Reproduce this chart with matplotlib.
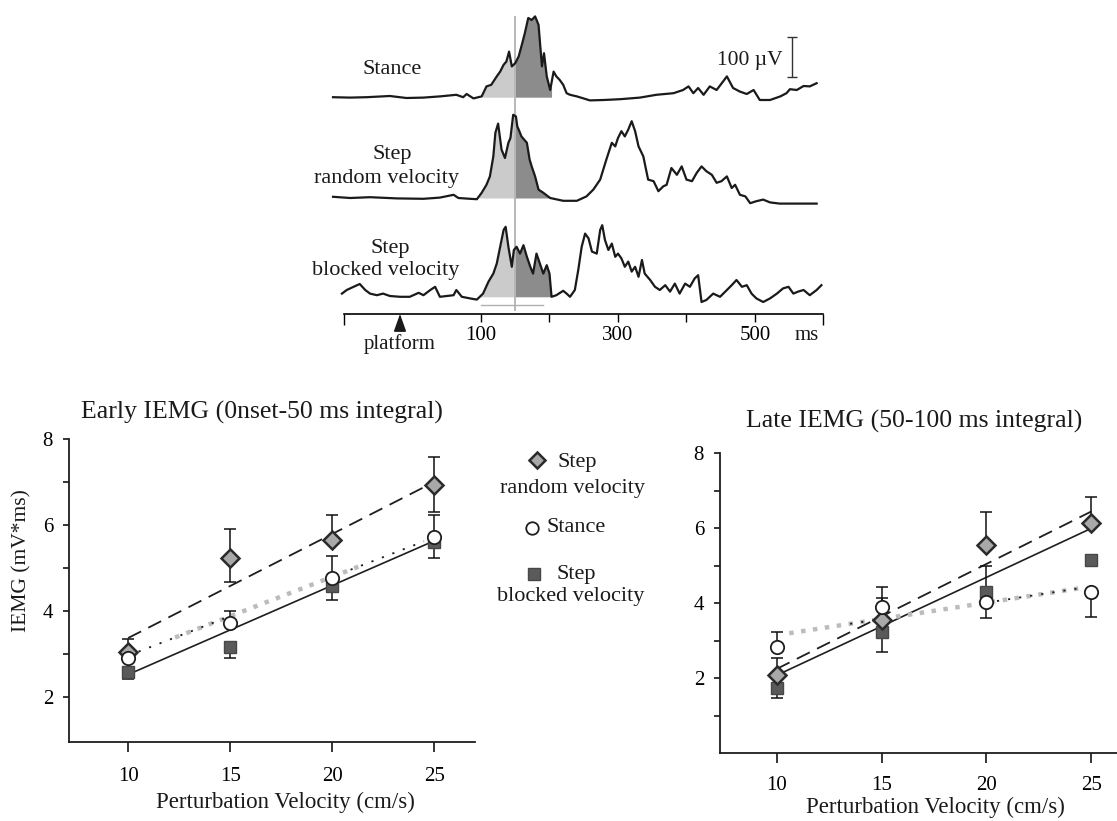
import numpy as np
import matplotlib.pyplot as plt

plt.rcParams['font.family'] = ['Liberation Serif', 'DejaVu Serif']

# ---- EMG traces (time in ms, amplitude in uV above each trace's baseline)
stance_t = [-116, -91, -67, -33, -9, 16, 40, 64, 74, 79, 89, 101, 108, 115, 123, 128, 133, 137,
            141, 145, 150, 155, 159, 164, 169, 174, 179, 184, 189, 192, 196, 201, 206, 210, 215,
            220, 225, 230, 240, 259, 279, 303, 332, 356, 381, 395, 403, 410, 417, 425, 434, 444,
            459, 468, 478, 488, 498, 507, 522, 537, 546, 551, 561, 571, 580, 590]
stance_uv = [0, -1, 0, 3, -2, -1, 2, 6, 0, 8, -3, 2, 27, 31, 52, 64, 81, 89,
             114, 77, 85, 102, 127, 160, 198, 193, 202, 181, 77, 110, 52, 18, 64, 52, 43,
             31, 10, 6, 2, -8, -7, -5, -1, 6, 10, 18, 27, 10, 23, 6, 27, 18,
             52, 23, 14, 8, 18, -7, -7, 2, 10, 20, 18, 28, 27, 35]

random_t = [-116, -91, -62, -23, 16, 40, 60, 67, 84, 94, 101, 108, 113, 118, 121, 125, 130, 135,
            140, 143, 147, 151, 153, 156, 159, 163, 167, 171, 174, 179, 184, 191, 201, 220, 240,
            254, 264, 274, 283, 291, 296, 300, 305, 310, 315, 320, 325, 330, 337, 344, 352, 359,
            366, 371, 378, 386, 393, 400, 408, 415, 422, 429, 437, 444, 451, 459, 466, 471, 478,
            486, 493, 502, 512, 522, 536, 561, 590]
random_uv = [3, 0, 2, -1, -2, 1, 8, 0, -2, -3, 13, 33, 54, 104, 163, 186, 121, 100,
             138, 150, 208, 204, 179, 167, 154, 146, 138, 96, 79, 54, 21, 13, 0, -7, -7,
             4, 21, 46, 96, 138, 129, 150, 167, 154, 171, 192, 167, 129, 104, 46, 42, 17,
             29, 33, 75, 58, 79, 46, 42, 63, 79, 67, 58, 38, 42, 54, 25, 33, 8,
             4, -13, -8, -4, -11, -14, -14, -14]

blocked_t = [-103, -96, -86, -77, -69, -62, -52, -43, -33, -18, -4, 9, 16, 26, 33, 40, 50, 60,
             64, 72, 84, 94, 103, 111, 118, 123, 128, 133, 136, 140, 145, 148, 152, 157, 162,
             167, 172, 176, 181, 186, 191, 196, 200, 203, 210, 220, 225, 230, 237, 242, 247,
             252, 257, 262, 269, 274, 277, 281, 286, 291, 296, 300, 305, 310, 315, 320, 325,
             330, 335, 339, 347, 354, 361, 369, 376, 383, 390, 398, 405, 412, 417, 422, 429,
             439, 449, 459, 466, 473, 481, 488, 495, 502, 512, 522, 532, 541, 549, 556, 563,
             571, 580, 590, 597]
blocked_uv = [8, 17, 25, 32, 17, 8, 4, 8, 2, 0, 0, 10, 4, 17, 25, 0, 2, 4,
              17, 0, -4, -7, 8, 38, 58, 83, 125, 167, 175, 125, 75, 117, 125, 108, 129,
              100, 75, 58, 108, 83, 58, 79, 58, 0, 4, 15, 8, 0, 17, 67, 125,
              158, 146, 113, 108, 167, 179, 142, 117, 133, 100, 108, 96, 75, 88, 63, 75,
              50, 92, 58, 42, 25, 17, 29, 13, 33, 8, 33, 25, 46, 54, -13, -8,
              8, 0, 17, 29, 42, 25, 29, 8, -4, -13, -4, 8, 21, 25, 8, 13,
              17, 4, 17, 29]

# integration windows (ms): onset -> onset+50 (light), onset+50 -> onset+100 (dark)
early_win = [(101, 150), (97, 148), (97, 148)]
late_win = [(150, 203), (148, 199), (148, 203)]

# ---- integrated EMG
vel = [10, 15, 20, 25]

early_random = [3.05, 5.23, 5.65, 6.93]
early_random_lo = [0, 0.55, 0, 0.62]
early_random_hi = [0.29, 0.67, 0.58, 0.64]
early_stance = [2.90, 3.73, 4.76, 5.73]
early_stance_lo = [0, 0, 0, 0]
early_stance_hi = [0, 0.27, 0.52, 0.50]
early_blocked = [2.59, 3.17, 4.57, 5.61]
early_blocked_lo = [0.18, 0.27, 0.31, 0.38]
early_blocked_hi = [0, 0, 0, 0]

late_random = [2.09, 3.56, 5.55, 6.13]
late_random_lo = [0, 0, 0, 0]
late_random_hi = [0.44, 0.57, 0.88, 0.71]
late_stance = [2.84, 3.91, 4.04, 4.31]
late_stance_lo = [0, 0, 0.44, 0.67]
late_stance_hi = [0.40, 0.52, 0, 0]
late_blocked = [1.73, 3.24, 4.31, 5.15]
late_blocked_lo = [0.26, 0.53, 0, 0]
late_blocked_hi = [0, 0, 0.68, 0]

fit_x = [10, 25]
early_random_fit = [3.37, 7.0]
early_blocked_fit = [2.52, 5.63]
early_stance_fit = [2.96, 5.71]
early_gray_x = [12.3, 21.6]
early_black_dots = [(10.0, 15.0), (20.9, 24.5)]

late_random_fit = [2.25, 6.45]
late_blocked_fit = [2.08, 6.0]
late_stance_fit = [3.15, 4.45]
late_gray_x = [10.6, 24.6]
late_black_dots = [(13.5, 15.2), (20.5, 24.6)]

W, H = 1117, 821
fig = plt.figure(figsize=(W / 100, H / 100), dpi=100)


def px_box(x0, x1, y0, y1):
    return [x0 / W, 1 - y1 / H, (x1 - x0) / W, (y1 - y0) / H]


# ================= top: EMG traces =================
top = fig.add_axes(px_box(330.3, 826.9, 5, 314))
top.set_xlim(-120, 605)
top.set_ylim(0, 772.5)
offsets = [542, 290, 43]
traces = [(stance_t, stance_uv), (random_t, random_uv), (blocked_t, blocked_uv)]


def burst_fill(ax, t, v, off, a, b, color):
    t = np.asarray(t, float)
    v = np.asarray(v, float)
    m = (t > a) & (t < b)
    tt = np.concatenate([[a], t[m], [b]])
    vv = np.concatenate([[np.interp(a, t, v)], v[m], [np.interp(b, t, v)]])
    ax.fill_between(tt, off, off + vv, color=color, lw=0, zorder=1)


for (t, v), off, w1, w2 in zip(traces, offsets, early_win, late_win):
    burst_fill(top, t, v, off, w1[0], w1[1], '#cbcbcb')
    burst_fill(top, t, v, off, w2[0], w2[1], '#8c8c8c')
    top.plot(t, np.asarray(v) + off, color='#1a1a1a', lw=1.6, zorder=3)

top.plot([150, 150], [10, 742], color='#b8b8b8', lw=1.4, zorder=2)
top.plot([100, 191], [22, 22], color='#b0b0b0', lw=1.0, zorder=2)
# 100 uV scale bar
top.errorbar([554], [642.5], yerr=50, fmt='none', ecolor='#333333',
             elinewidth=1.0, capsize=3.5, capthick=1.0)

for s in ['top', 'right', 'left']:
    top.spines[s].set_visible(False)
top.spines['bottom'].set_bounds(-100, 600)
top.spines['bottom'].set_linewidth(1.2)
top.set_yticks([])
top.set_xticks([100, 200, 300, 400, 500])
top.set_xticklabels(['100', '', '300', '', '500'])
top.set_xticks([-100, 600], minor=True)
top.tick_params(axis='x', which='major', direction='out', length=5.5, width=1.0,
                labelsize=15, pad=3)
top.tick_params(axis='x', which='minor', direction='out', length=8, width=1.0)
top.patch.set_alpha(0)

# ================= bottom panels =================
styles = {
    'random': dict(marker='D', ms=9, mfc='#a9a9a9', mec='#2b2b2b', mew=1.8),
    'stance': dict(marker='o', ms=9.6, mfc='white', mec='#1e1e1e', mew=1.3),
    'blocked': dict(marker='s', ms=9.2, mfc='#5a5a5a', mec='#474747', mew=1.0),
}


def bars(ax, x, y, lo, hi):
    x = np.asarray(x, float)
    y = np.asarray(y, float)
    for err, low in ((np.asarray(lo, float), True), (np.asarray(hi, float), False)):
        m = err > 0
        if not m.any():
            continue
        z = np.zeros(m.sum())
        e = [err[m], z] if low else [z, err[m]]
        ax.errorbar(x[m], y[m], yerr=e, fmt='none', ecolor='#111111',
                    elinewidth=1.1, capsize=4, capthick=1.1, zorder=3)


def panel(ax, rnd, stn, blk, rfit, bfit, sfit, gray_x, black_dots):
    ax.plot(fit_x, rfit, color='#1e1e1e', lw=1.3, ls=(0, (8, 4.5)), zorder=2)
    ax.plot(fit_x, bfit, color='#1e1e1e', lw=1.2, zorder=2)
    ax.plot(gray_x, np.interp(gray_x, fit_x, sfit), color='#bcbcbc', lw=3.2,
            ls=(0, (1, 1.7)), zorder=2)
    for a, b in black_dots:
        ax.plot([a, b], np.interp([a, b], fit_x, sfit), color='#1e1e1e', lw=1.3,
                ls=(0, (1.2, 5)), zorder=2)
    for key, (y, lo, hi) in zip(['blocked', 'random', 'stance'], [blk, rnd, stn]):
        bars(ax, vel, y, lo, hi)
        ax.plot(vel, y, ls='none', zorder=4, **styles[key])
    for s in ['top', 'right']:
        ax.spines[s].set_visible(False)
    for s in ['left', 'bottom']:
        ax.spines[s].set_linewidth(1.3)
        ax.spines[s].set_color('#1e1e1e')
    ax.set_xticks(vel)
    ax.patch.set_alpha(0)


axL = fig.add_axes(px_box(69, 475, 439, 742))
panel(axL,
      (early_random, early_random_lo, early_random_hi),
      (early_stance, early_stance_lo, early_stance_hi),
      (early_blocked, early_blocked_lo, early_blocked_hi),
      early_random_fit, early_blocked_fit, early_stance_fit, early_gray_x, early_black_dots)
axL.set_xlim(7.1, 27.0)
axL.set_ylim(0.95, 8)
axL.set_yticks([2, 3, 4, 5, 6, 7, 8])
axL.set_yticklabels(['2', '', '4', '', '6', '', '8'])
axL.tick_params(axis='x', direction='out', length=7, width=1.1, labelsize=15, pad=11)
axL.tick_params(axis='y', direction='out', length=4.5, width=1.1, labelsize=15, pad=7)

axR = fig.add_axes(px_box(720, 1117, 453.3, 753.3))
panel(axR,
      (late_random, late_random_lo, late_random_hi),
      (late_stance, late_stance_lo, late_stance_hi),
      (late_blocked, late_blocked_lo, late_blocked_hi),
      late_random_fit, late_blocked_fit, late_stance_fit, late_gray_x, late_black_dots)
axR.set_xlim(7.3, 26.22)
axR.set_ylim(0, 8)
axR.set_yticks([1, 2, 3, 4, 5, 6, 7, 8])
axR.set_yticklabels(['', '2', '', '4', '', '6', '', '8'])
axR.tick_params(axis='x', direction='out', length=7, width=1.1, labelsize=15, pad=9)
axR.tick_params(axis='y', direction='out', length=4.5, width=1.1, labelsize=15, pad=7)

# ================= text and legend (pixel coordinates) =================
ov = fig.add_axes([0, 0, 1, 1])
ov.set_xlim(0, W)
ov.set_ylim(H, 0)
ov.axis('off')

lab = dict(ha='center', va='center', color='#1a1a1a')
ov.text(392, 69, 'Stance', fontsize=16, **lab)
ov.text(392, 154, 'Step', fontsize=16, **lab)
ov.text(387, 178, 'random velocity', fontsize=16, **lab)
ov.text(390, 248, 'Step', fontsize=16, **lab)
ov.text(386, 270, 'blocked velocity', fontsize=16, **lab)
ov.text(750, 60, '100 µV', fontsize=15.5, **lab)
ov.text(807, 336, 'ms', fontsize=15, **lab)
ov.annotate('platform', xy=(400, 314), xytext=(400, 344), fontsize=15,
            arrowprops=dict(arrowstyle='-|>,head_length=0.7,head_width=0.25',
                            color='#1a1a1a', lw=1.2, shrinkA=9, shrinkB=0), **lab)

ov.text(262, 412, 'Early IEMG (0nset-50 ms integral)', fontsize=18.5, **lab)
ov.text(914, 421, 'Late IEMG (50-100 ms integral)', fontsize=18.5, **lab)
ov.text(285, 802, 'Perturbation Velocity (cm/s)', fontsize=16.5, **lab)
ov.text(935, 807, 'Perturbation Velocity (cm/s)', fontsize=16.5, **lab)
ov.text(22, 561, 'IEMG (mV*ms)', fontsize=15.5, rotation=90, **lab)

leg_styles = [dict(styles['random'], ms=8), dict(styles['stance'], ms=9),
              dict(styles['blocked'], ms=8)]
ov.plot([537], [460], ls='none', **leg_styles[0])
ov.plot([532], [528], ls='none', **leg_styles[1])
ov.plot([534], [574], ls='none', **leg_styles[2])
ov.text(577, 462, 'Step', fontsize=16, **lab)
ov.text(573, 488, 'random velocity', fontsize=16, **lab)
ov.text(576, 528, 'Stance', fontsize=16, **lab)
ov.text(576, 574, 'Step', fontsize=16, **lab)
ov.text(571, 597, 'blocked velocity', fontsize=16, **lab)

fig.savefig('out.png', dpi=100)
